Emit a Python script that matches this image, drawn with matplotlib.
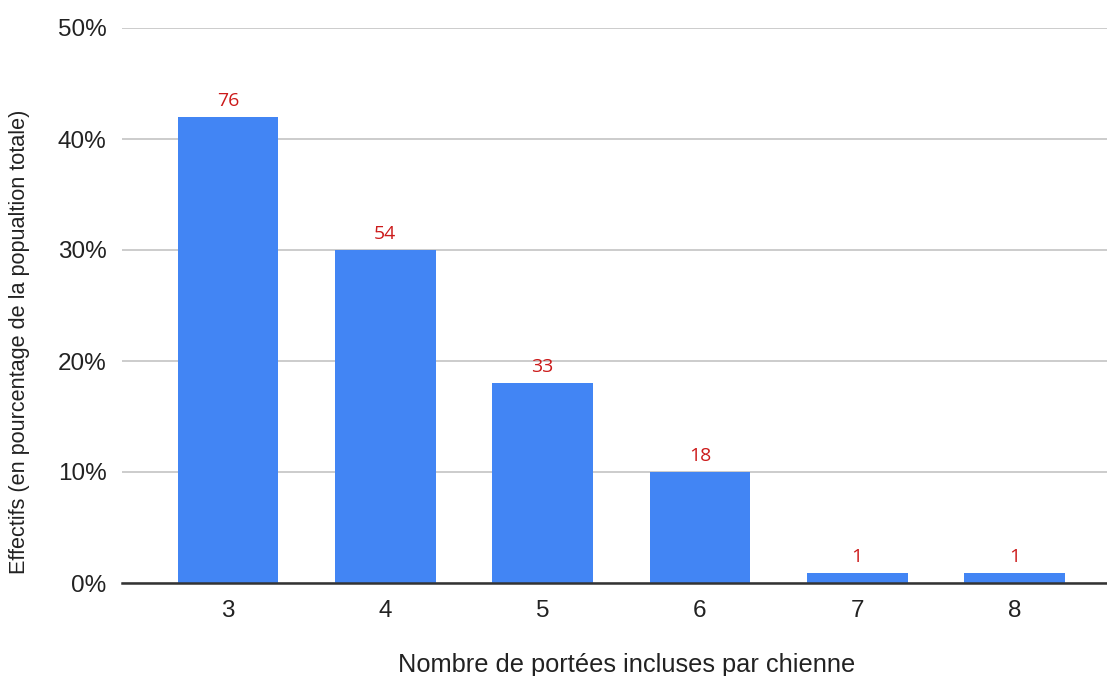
import matplotlib

matplotlib.use("Agg")
import matplotlib.pyplot as plt  # noqa: E402
from matplotlib.ticker import FuncFormatter  # noqa: E402

# values
litters = [3, 4, 5, 6, 7, 8]
share_pct = [42.0, 30.0, 18.0, 10.0, 0.9, 0.9]
counts = [76, 54, 33, 18, 1, 1]
y_ticks = [0, 10, 20, 30, 40, 50]

BLUE = "#4285F4"
RED = "#CC1A1A"
TEXT = "#222222"
GRID = "#CCCCCC"

plt.rcParams["font.family"] = ["Liberation Sans", "DejaVu Sans"]

W, H = 1107, 676
fig = plt.figure(figsize=(W / 100, H / 100), dpi=100)

left_px, base_px, top_px = 122, 583, 28
step_px = 157.3
x0 = litters[0] - (228 - left_px) / step_px
x1 = litters[-1] + 0.674
right_px = left_px + (x1 - x0) * step_px
ax = fig.add_axes(
    [left_px / W, (H - base_px) / H, (right_px - left_px) / W, (base_px - top_px) / H]
)

ax.bar(litters, share_pct, width=0.64, color=BLUE, zorder=3)
for x, v, n in zip(litters, share_pct, counts):
    ax.annotate(
        str(n),
        (x, v),
        xytext=(0, 5),
        textcoords="offset points",
        ha="center",
        va="bottom",
        color=RED,
        fontsize=14,
        family=["Open Sans", "DejaVu Sans"],
    )

ax.set_xlim(x0, x1)
ax.set_ylim(0, 50)
ax.set_xticks(litters)
ax.set_yticks(y_ticks)
ax.yaxis.set_major_formatter(FuncFormatter(lambda v, _: f"{v:.0f}%"))
ax.tick_params(axis="both", length=0, labelsize=17.5, colors=TEXT)
ax.tick_params(axis="x", pad=12)
ax.tick_params(axis="y", pad=11)
ax.grid(axis="y", color=GRID, linewidth=1.4, zorder=0)
for side in ("top", "right", "left"):
    ax.spines[side].set_visible(False)
ax.spines["bottom"].set_color("#333333")
ax.spines["bottom"].set_linewidth(1.8)
ax.spines["bottom"].set_zorder(4)

fig.text(
    627 / W,
    1 - 665 / H,
    "Nombre de portées incluses par chienne",
    ha="center",
    va="center",
    fontsize=18.3,
    color=TEXT,
)
fig.text(
    20 / W,
    1 - 342 / H,
    "Effectifs (en pourcentage de la popualtion totale)",
    ha="center",
    va="center",
    rotation=90,
    fontsize=15.6,
    color=TEXT,
)

fig.savefig("out.png", dpi=100, facecolor="white")
